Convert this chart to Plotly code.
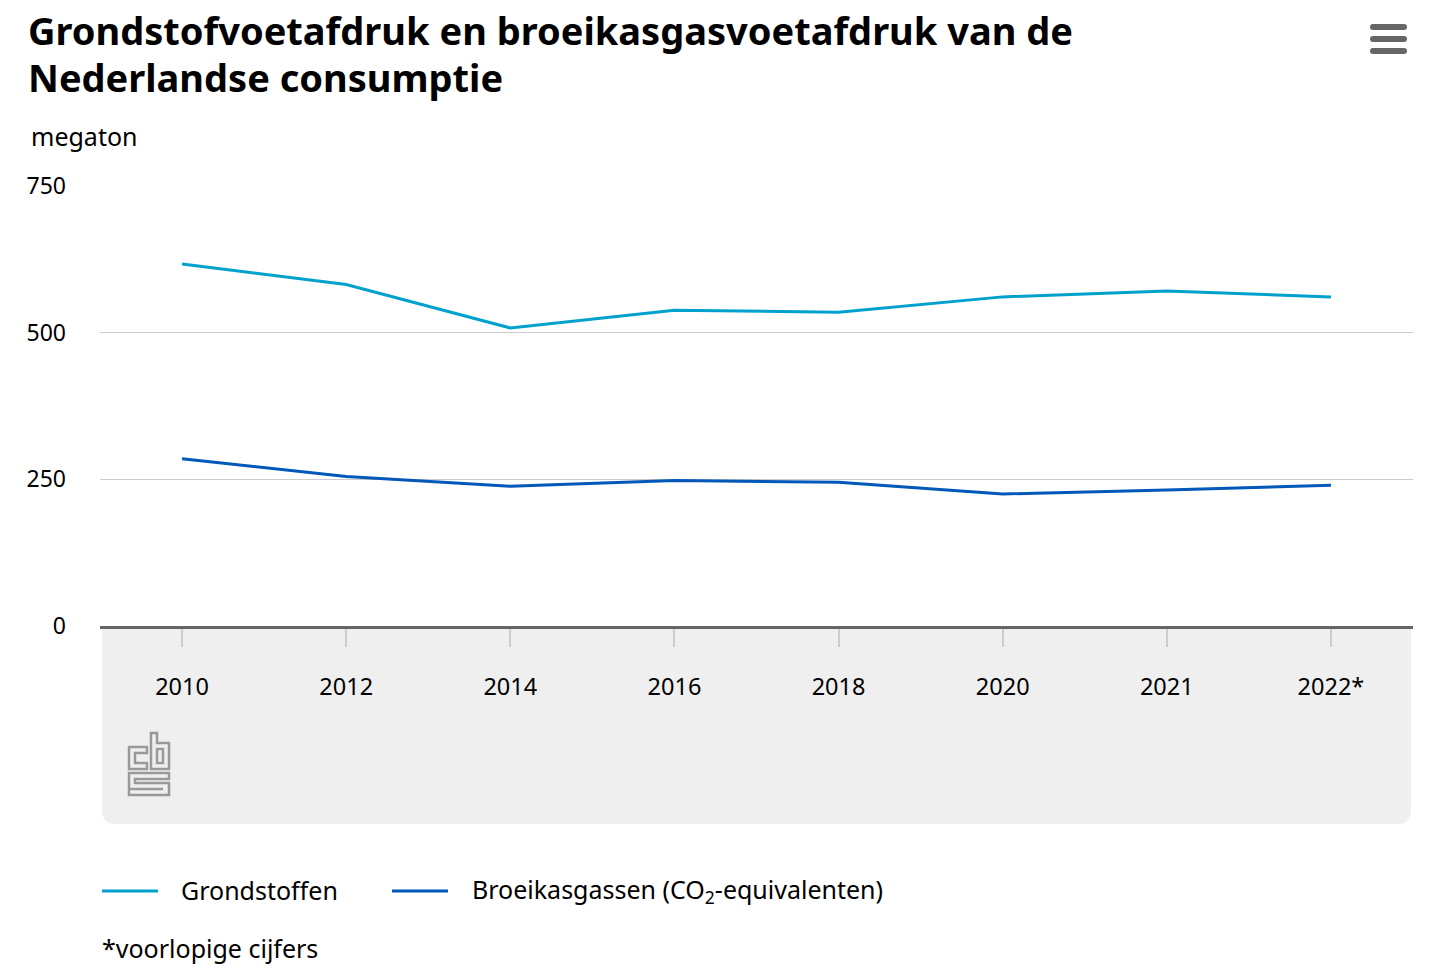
import plotly.graph_objects as go

# ---- data ----
years = ["2010", "2012", "2014", "2016", "2018", "2020", "2021", "2022*"]
grondstoffen = [617, 582, 508, 538, 535, 561, 571, 561]
broeikasgassen = [285, 255, 238, 248, 245, 225, 232, 240]
y_ticks = [0, 250, 500, 750]

series_names = ["Grondstoffen", "Broeikasgassen (CO<sub>2</sub>-equivalenten)"]
series_colors = ["#00A1CD", "#0058B8"]
title_lines = ["Grondstofvoetafdruk en broeikasgasvoetafdruk van de", "Nederlandse consumptie"]

FONT = "Noto Sans"
W, H = 1438, 975
L, R, T, B = 100, 25, 186, 349
PW = W - L - R
PH = H - T - B


def px(x):
    return (x - L) / PW


def py(y):
    return (H - B - y) / PH


fig = go.Figure()
for name, vals, col in zip(series_names, [grondstoffen, broeikasgassen], series_colors):
    fig.add_trace(go.Scatter(x=years, y=vals, mode="lines", name=name,
                             line=dict(color=col, width=3), showlegend=False,
                             hovertemplate="%{x}: %{y}<extra>" + name + "</extra>"))

shapes = []
# grey panel below the axis with rounded bottom corners
r = 14
pw = PW - 2
ph = 198
shapes.append(dict(
    type="path", xref="paper", yref="paper", xsizemode="pixel", ysizemode="pixel",
    xanchor=0, yanchor=0, layer="below",
    path=(f"M 2 0 L {pw} 0 L {pw} {-ph + r} Q {pw} {-ph} {pw - r} {-ph} "
          f"L {2 + r} {-ph} Q 2 {-ph} 2 {-ph + r} Z"),
    fillcolor="#EFEFEF", line=dict(width=0)))

# hamburger menu icon
for yy in [27, 39, 51]:
    shapes.append(dict(type="path", xref="paper", yref="paper", xsizemode="pixel",
                       ysizemode="pixel", xanchor=px(1370), yanchor=py(yy),
                       path="M 3 3 L 34 3 Q 37 3 37 0 Q 37 -3 34 -3 L 3 -3 Q 0 -3 0 0 Q 0 3 3 3 Z",
                       fillcolor="#666666", line=dict(width=0)))

# CBS logo (outline drawing), anchored at its top-left corner
logo = ("M 0 -14 L 18 -14 L 18 -20 L 6 -20 L 6 -30 L 18 -30 L 18 -36 L 0 -36 Z "
        "M 22 0 L 28 0 L 28 -10 L 40 -10 L 40 -36 L 22 -36 Z "
        "M 28 -16 L 34 -16 L 34 -30 L 28 -30 Z "
        "M 0 -40 L 40 -40 L 40 -46 L 6 -46 L 6 -50 L 40 -50 L 40 -62 L 0 -62 L 0 -56 "
        "L 34 -56 L 34 -56 L 0 -56 Z")
shapes.append(dict(type="path", xref="paper", yref="paper", xsizemode="pixel",
                   ysizemode="pixel", xanchor=px(129), yanchor=py(733),
                   path=logo, line=dict(color="#999999", width=2.5)))

# legend swatches
for x0, col in [(102, series_colors[0]), (392, series_colors[1])]:
    shapes.append(dict(type="line", xref="paper", yref="paper",
                       x0=px(x0), x1=px(x0 + 56), y0=py(891), y1=py(891),
                       line=dict(color=col, width=3)))

annotations = [
    dict(text="<b>" + title_lines[0] + "</b>", x=px(26), y=py(30), xanchor="left",
         yanchor="middle", font=dict(size=38, color="#000000", family=FONT)),
    dict(text="<b>" + title_lines[1] + "</b>", x=px(26), y=py(77), xanchor="left",
         yanchor="middle", font=dict(size=38, color="#000000", family=FONT)),
    dict(text="megaton", x=px(29), y=py(136), xanchor="left", yanchor="middle",
         font=dict(size=25, color="#000000", family=FONT)),
    dict(text=series_names[0], x=px(179), y=py(890), xanchor="left", yanchor="middle",
         font=dict(size=25, color="#000000", family=FONT)),
    dict(text=series_names[1], x=px(470), y=py(890), xanchor="left", yanchor="middle",
         font=dict(size=25, color="#000000", family=FONT)),
    dict(text="*voorlopige cijfers", x=px(100), y=py(948), xanchor="left", yanchor="middle",
         font=dict(size=25, color="#000000", family=FONT)),
]
for a in annotations:
    a.update(xref="paper", yref="paper", showarrow=False)

fig.update_layout(
    width=W, height=H,
    margin=dict(l=L, r=R, t=T, b=B, pad=0),
    paper_bgcolor="white", plot_bgcolor="white",
    font=dict(family=FONT, size=23, color="#000000"),
    shapes=shapes, annotations=annotations,
    showlegend=False,
    xaxis=dict(type="category", range=[-0.5, len(years) - 0.5], showgrid=False,
               showline=True, linecolor="#666666", linewidth=3,
               ticks="outside", ticklen=18, tickwidth=2, tickcolor="#CCCCCC",
               ticklabelstandoff=20, tickfont=dict(size=23.5, family=FONT),
               zeroline=False, fixedrange=True),
    yaxis=dict(range=[0, 750], tickvals=y_ticks, showgrid=True, gridcolor="#CCCCCC",
               gridwidth=1, zeroline=False, showline=False, ticks="",
               ticklabelstandoff=33, tickfont=dict(size=23, family=FONT), fixedrange=True),
)

fig.write_html("out.html", config={"displayModeBar": False},
               post_script="document.body.style.margin='0';")
